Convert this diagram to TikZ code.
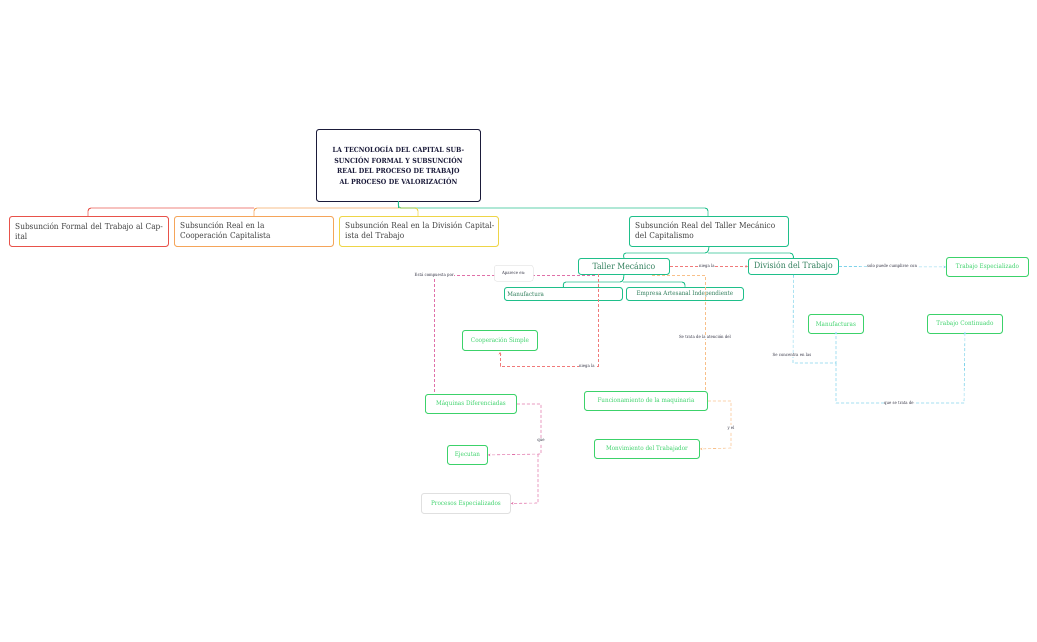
\documentclass[tikz,border=0pt]{standalone}
\usepackage{fontspec}
\setmainfont{DejaVu Serif Condensed}
\usetikzlibrary{arrows.meta}
\definecolor{navy}{HTML}{1B1B3A}
\definecolor{cred}{HTML}{E8524A}
\definecolor{corange}{HTML}{F5A55A}
\definecolor{cyellow}{HTML}{EED548}
\definecolor{cgreen}{HTML}{1FBF8A}
\definecolor{lgreen}{HTML}{3CD26A}
\definecolor{tgreen}{HTML}{2E7D5A}
\definecolor{cpink}{HTML}{E070A8}
\definecolor{cpred}{HTML}{F07A7A}
\definecolor{cpor}{HTML}{F8C08A}
\definecolor{ccyan}{HTML}{7FD3EA}
\definecolor{lbl}{HTML}{333344}
\begin{document}
\begin{tikzpicture}[x=1pt,y=-1pt,
 box/.style={draw,rounded corners=2.5pt,line width=0.9pt,inner sep=0pt,anchor=north west},
 sub/.style={text width=#1,align=left,font=\fontsize{8.2}{10}\selectfont,text=black!75,inner sep=0pt},
 lg/.style={box,draw=lgreen,text=lgreen,font=\fontsize{6.3}{7}\selectfont,align=center},
 tg/.style={box,draw=cgreen,text=tgreen,align=center},
 lab/.style={font=\fontsize{4.3}{5}\selectfont,text=lbl,fill=white,inner sep=0.5pt},
 rel/.style={dashed,dash pattern=on 3pt off 2pt,line width=0.6pt},
 tree/.style={line width=0.9pt,rounded corners=3pt},
 tip/.style={-{Stealth[length=2.5pt,width=2.5pt]}}]
\path[use as bounding box] (0,0) rectangle (1037,642);
\node[box,draw=navy,minimum width=164pt,minimum height=72pt,text width=150pt,align=center,font=\bfseries\fontsize{7}{10.5}\selectfont,text=navy] (root) at (316,129) {LA TECNOLOGÍA DEL CAPITAL SUBSUNCIÓN FORMAL Y SUBSUNCIÓN REAL DEL PROCESO DE TRABAJO AL PROCESO DE VALORIZACIÓN};
\draw[tree,cgreen] (root.south) -- (398,208) -- (708,208) -- (708,216);
\draw[tree,cyellow] (398,208) -- (418,208) -- (418,216);
\draw[tree,corange] (398,208) -- (254,208) -- (254,216);
\draw[tree,cred] (254,208) -- (88,208) -- (88,216);
\draw[tree,cgreen] (398,201) -- (398,208);
\node[box,draw=cred,fill=white,minimum width=159pt,minimum height=30pt] (a) at (9,216) {};
\node[sub=150pt,anchor=west] (at) at ([xshift=6pt]a.west) {Subsunción Formal del Trabajo al Capital};
\node[box,draw=corange,fill=white,minimum width=159pt,minimum height=30pt] (b) at (174,216) {};
\node[sub=150pt,anchor=west] (bt) at ([xshift=6pt]b.west) {Subsunción Real en la\\Cooperación Capitalista};
\node[box,draw=cyellow,fill=white,minimum width=159pt,minimum height=30pt] (c) at (339,216) {};
\node[sub=150pt,anchor=west] (ct) at ([xshift=6pt]c.west) {Subsunción Real en la División Capitalista del Trabajo};
\node[box,draw=cgreen,fill=white,minimum width=159pt,minimum height=30pt] (d) at (629,216) {};
\node[sub=150pt,anchor=west] (dtx) at ([xshift=6pt]d.west) {Subsunción Real del Taller Mecánico del Capitalismo};
% level 2
\node[tg,minimum width=91pt,minimum height=16pt,font=\fontsize{8.6}{10}\selectfont] (tm) at (578,258) {Taller Mecánico};
\node[tg,minimum width=90pt,minimum height=16pt,font=\fontsize{8.6}{10}\selectfont] (dt) at (748,258) {División del Trabajo};
\draw[tree,cgreen] (d.south) -- (708,253) -- (623,253) -- (tm.north);
\draw[tree,cgreen] (708,253) -- (793,253) -- (dt.north);
\node[tg,minimum width=118pt,minimum height=13pt,font=\fontsize{6.2}{7}\selectfont,text width=112pt,align=left] (mf) at (504,287) {Manufactura};
\node[tg,minimum width=117pt,minimum height=13pt,font=\fontsize{6.2}{7}\selectfont] (ea) at (626,287) {Empresa Artesanal Independiente};
\draw[tree,cgreen] (tm.south) -- (623,282) -- (563,282) -- (mf.north);
\draw[tree,cgreen] (623,282) -- (685,282) -- (ea.north);
% green leaves
\node[lg,minimum width=75pt,minimum height=20pt] (cs) at (462,330) {Cooperación Simple};
\node[lg,minimum width=91pt,minimum height=19pt] (md) at (425,394) {Máquinas Diferenciadas};
\node[lg,minimum width=40pt,minimum height=19pt] (ej) at (447,445) {Ejecutan};
\node[lg,draw=black!12,minimum width=89pt,minimum height=20pt] (pe) at (421,493) {Procesos Especializados};
\node[lg,minimum width=123pt,minimum height=19pt] (fm) at (584,391) {Funcionamiento de la maquinaria};
\node[lg,minimum width=105pt,minimum height=19pt] (mt) at (594,439) {Monvimiento del Trabajador};
\node[lg,minimum width=55pt,minimum height=19pt] (ms) at (808,314) {Manufacturas};
\node[lg,minimum width=75pt,minimum height=19pt] (tc) at (927,314) {Trabajo Continuado};
\node[lg,minimum width=82pt,minimum height=19pt] (te) at (946,257) {Trabajo Especializado};
% relations
\coordinate (p1) at (595,275);
\draw[rel,cpink] (p1) -- (434,275) -- (434,394);
\node[lab,anchor=west] at (414,275) {Está compuesta por};
\node[box,draw=black!10,fill=white,line width=0.5pt,minimum width=39pt,minimum height=16pt] (ap) at (494,265) {};
\node[lab,fill=none] at (ap.center) {Aparece en:};
\coordinate (p3) at (652,275);
\draw[rel,cpor] (p3) -- (705,275) -- (705,391);
\node[lab] at (705,337) {Se trata de la atención del};
\draw[rel,cpred,tip] (tm.east) -- (dt.west);
\node[lab] at (707,266) {niega la};
\coordinate (p4) at (598,274);
\coordinate (p5) at (500,352);
\draw[rel,cpred,tip] (p4) -- (598,366) -- (500,366) -- (p5);
\node[lab] at (587,366) {niega la};
\draw[rel,cpor,tip] (fm.east) -- (731,401) -- (731,448) -- (mt.east);
\node[lab] at (731,428) {y el};
\draw[rel,cpink,tip] (md.east) -- (541,404) -- (541,454) -- (ej.east);
\draw[rel,cpink,tip] (538,454) -- (538,503) -- (pe.east);
\node[lab] at (541,441) {que};
\draw[rel,ccyan,tip] (dt.east) -- (te.west);
\node[lab] at (892,266) {solo puede cumplirse con};
\draw[rel,ccyan,tip] (dt.south) -- (793,363) -- (836,363) -- ([yshift=2pt]ms.south);
\node[lab] at (792,355) {Se concentra en las};
\draw[rel,ccyan,tip] (836,363) -- (836,403) -- (964,403) -- ([yshift=2pt]tc.south);
\node[lab] at (899,403) {que se trata de};
\end{tikzpicture}
\end{document}
